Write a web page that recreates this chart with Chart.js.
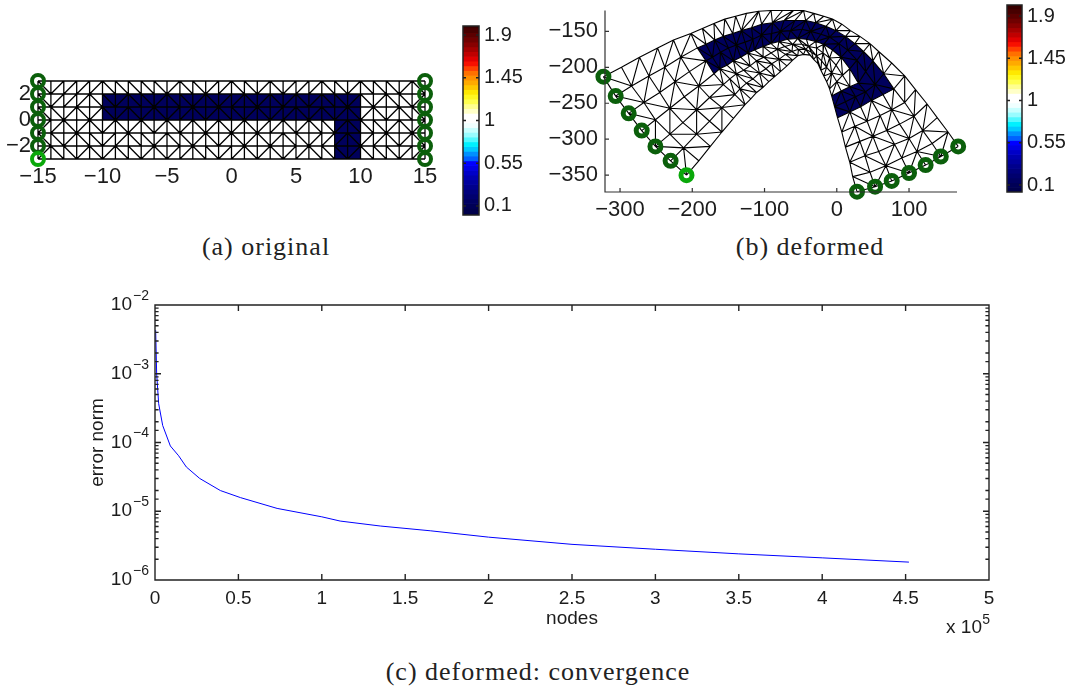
<!DOCTYPE html>
<html>
<head>
<meta charset="utf-8">
<title>mesh and convergence</title>
<script src="https://cdn.jsdelivr.net/npm/chart.js@4/dist/chart.umd.js"></script>
<style>
    html, body { margin: 0; padding: 0; background: #fff; }
    body { position: relative; width: 1071px; height: 688px; overflow: hidden; }
    canvas { position: absolute; }
    .caption { position: absolute; font-family: "Liberation Serif", serif; font-size: 26px; color: #222; white-space: pre; transform: translateX(-50%); letter-spacing: 1px; }
</style>
</head>
<body>
<canvas id="chartOriginal" width="455" height="200" style="left:0;top:0"></canvas>
<canvas id="barOriginal" width="75" height="235" style="left:455px;top:0"></canvas>
<canvas id="chartDeformed" width="470" height="225" style="left:530px;top:0"></canvas>
<canvas id="barDeformed" width="71" height="225" style="left:1000px;top:0"></canvas>
<canvas id="chartConvergence" width="960" height="370" style="left:60px;top:285px"></canvas>
<div class="caption" style="left:266px;top:232px">(a) original</div>
<div class="caption" style="left:810px;top:232px">(b) deformed</div>
<div class="caption" style="left:538px;top:657px">(c) deformed: convergence</div>
<script>
// undeformed grid of the beam
const originalX = [-15, -14, -13, -12, -11, -10, -9, -8, -7, -6, -5, -4, -3, -2, -1, 0, 1, 2, 3, 4, 5, 6, 7, 8, 9, 10, 11, 12, 13, 14, 15];
const originalY = [3, 2, 1, 0, -1, -2, -3];

// diagonal of each grid cell, top row first: u is "/", d is "\"
const cellDiagonals = [
    'duuuudddddudduu' + 'dduduuuddudddud',
    'duuuddudduddudu' + 'ududududdududdu',
    'ddududududuudud' + 'duduudududududd',
    'uududududududud' + 'uduududdudddudu',
    'ddudduudduddudu' + 'dududduuuduudud',
    'uddududduduuddu' + 'ududuuddduddduu'
];

// node positions after deformation, one row per y of originalY
const deformedX = [
    [-323, -298, -273, -248, -226, -202, -186, -170, -155, -140, -125, -108, -91, -75, -60, -46, -32, -18, -6, 7, 19, 32, 46, 58, 76, 94, 109, 125, 139, 154, 168],
    [-306, -284, -260, -238, -216, -193, -181, -169, -157, -144, -132, -118, -104, -89, -73, -58, -43, -29, -15, -1, 12, 25, 37, 50, 65, 79, 94, 107, 119, 132, 144],
    [-288, -267, -245, -224, -204, -181, -172, -161, -150, -139, -127, -116, -104, -90, -78, -64, -48, -36, -22, -10, 3, 15, 28, 40, 53, 64, 76, 87, 100, 111, 123],
    [-270, -251, -231, -211, -191, -170, -162, -152, -143, -133, -123, -114, -102, -91, -80, -68, -54, -42, -29, -18, -6, 6, 18, 30, 40, 48, 60, 69, 80, 90, 100],
    [-251, -231, -213, -194, -176, -157, -148, -139, -129, -120, -111, -101, -91, -82, -72, -61, -48, -39, -28, -19, -10, -1, 8, 18, 26, 33, 42, 50, 58, 68, 76],
    [-230, -212, -194, -176, -159, -141, -134, -125, -116, -107, -98, -90, -80, -71, -62, -53, -43, -35, -28, -21, -14, -7, 0, 6, 12, 18, 25, 32, 39, 46, 53],
    [-208, -191, -175, -159, -143, -127, -119, -111, -102, -94, -86, -78, -69, -61, -54, -46, -37, -32, -26, -22, -18, -14, -10, -7, -3, 1, 7, 12, 18, 22, 28]
];
const deformedY = [
    [-213, -200, -186, -173, -162, -153, -146, -139, -133, -129, -125, -122, -121, -121, -121, -121, -125, -129, -133, -140, -149, -157, -167, -178, -194, -212, -231, -251, -270, -290, -310],
    [-240, -226, -212, -200, -186, -173, -168, -162, -157, -153, -149, -145, -140, -138, -135, -135, -135, -138, -143, -149, -157, -167, -178, -191, -209, -230, -249, -268, -288, -306, -324],
    [-264, -249, -235, -220, -206, -191, -186, -179, -173, -169, -165, -161, -155, -153, -150, -149, -147, -150, -154, -158, -167, -176, -190, -206, -224, -238, -259, -279, -299, -317, -336],
    [-288, -273, -257, -241, -226, -209, -202, -197, -191, -186, -180, -176, -171, -167, -164, -161, -160, -161, -164, -168, -176, -186, -202, -222, -234, -246, -267, -288, -307, -326, -347],
    [-310, -293, -277, -259, -242, -224, -216, -209, -204, -198, -191, -186, -180, -175, -171, -168, -168, -171, -173, -180, -187, -197, -211, -227, -241, -255, -275, -296, -317, -337, -358],
    [-330, -312, -293, -275, -256, -238, -230, -222, -216, -208, -202, -195, -189, -182, -178, -175, -175, -179, -184, -191, -200, -208, -220, -233, -248, -262, -282, -303, -323, -346, -366],
    [-350, -330, -310, -290, -271, -252, -244, -235, -228, -220, -213, -206, -198, -190, -184, -182, -183, -189, -195, -204, -212, -220, -230, -240, -255, -270, -290, -311, -332, -352, -373]
];

// stiff L-shaped inclusion, corners as column / row of the grid
const regionCols = [5, 5, 25, 25, 23, 23, 5];
const regionRows = [3, 1, 1, 6, 6, 3, 3];

// tick values
const originalXTicks = [-15, -10, -5, 0, 5, 10, 15];
const originalYTicks = [-2, 0, 2];
const deformedXTicks = [-300, -200, -100, 0, 100];
const deformedYTicks = [-350, -300, -250, -200, -150];
const colorbarTicks = [0.1, 0.55, 1, 1.45, 1.9];
const nodesTicks = [0, 50000, 100000, 150000, 200000, 250000, 300000, 350000, 400000, 450000, 500000];

// colorbar
const colorbarLevels = [0, 0.05, 0.1, 0.15, 0.2, 0.25, 0.3, 0.35, 0.4, 0.45, 0.5, 0.55, 0.6, 0.65, 0.7, 0.75, 0.8, 0.85, 0.9, 0.95, 1, 1.05, 1.1, 1.15, 1.2, 1.25, 1.3, 1.35, 1.4, 1.45, 1.5, 1.55, 1.6, 1.65, 1.7, 1.75, 1.8, 1.85, 1.9, 1.95, 2];
const colorbarColors = ['#000046', '#00004c', '#000056', '#000062', '#00006e', '#00007c', '#00008c', '#00009e', '#0000b0', '#0000c8', '#0000e4', '#0000ff', '#0060ff', '#0090ff', '#00c8ff', '#00f0ff', '#50f8ff', '#98fcff', '#c8ffff', '#f0ffff', '#ffffff', '#ffffff', '#ffffc8', '#ffff90', '#ffff50', '#fff820', '#ffe800', '#ffc800', '#ffaa00', '#ff9000', '#ff7000', '#ff4000', '#f81000', '#e00000', '#c00000', '#a40000', '#880000', '#700000', '#5c0000', '#480000', '#380000'];

// convergence curve
const nodesValues = [400, 1000, 2200, 4600, 9200, 14200, 18800, 26800, 39200, 51200, 73200, 100000, 111000, 135000, 165000, 200000, 250000, 300000, 350000, 400000, 452000];
const errorValues = [4.3e-3, 1e-3, 3.67e-4, 1.77e-4, 8.9e-5, 6.4e-5, 4.4e-5, 3e-5, 2e-5, 1.58e-5, 1.1e-5, 8.3e-6, 7.2e-6, 6.1e-6, 5.2e-6, 4.2e-6, 3.3e-6, 2.8e-6, 2.4e-6, 2.1e-6, 1.82e-6];

const INK = '#1c1c1c';
const NAVY = '#00005c';
const DARK_GREEN = '#0b5f0b';
const LIGHT_GREEN = '#0aa80a';

Chart.defaults.font.family = '"Liberation Sans", Arial, sans-serif';
Chart.defaults.font.size = 19;
Chart.defaults.color = INK;
Chart.defaults.animation = false;

const niceMinus = v => String(v).replace('-', '\u2212');

function isDecade(v) {
    const e = Math.log10(v);
    return Math.abs(e - Math.round(e)) < 1e-6;
}

// MATLAB style axis lines and inward ticks
const axesLines = {
    id: 'axesLines',
    afterDraw(chart, args, opts) {
        if (!opts.show) return;
        const ctx = chart.ctx;
        const a = chart.chartArea;
        const len = opts.tick;
        ctx.save();
        ctx.strokeStyle = opts.color;
        ctx.lineWidth = opts.width;
        ctx.beginPath();
        if (opts.box) {
            ctx.rect(a.left, a.top, a.right - a.left, a.bottom - a.top);
        } else {
            ctx.moveTo(a.left, a.top);
            ctx.lineTo(a.left, a.bottom);
            ctx.lineTo(a.right, a.bottom);
        }
        chart.scales.x.ticks.forEach(t => {
            if (!opts.xticks) return;
            const px = chart.scales.x.getPixelForValue(t.value);
            ctx.moveTo(px, a.bottom);
            ctx.lineTo(px, a.bottom - len);
            if (opts.box) {
                ctx.moveTo(px, a.top);
                ctx.lineTo(px, a.top + len);
            }
        });
        chart.scales.y.ticks.forEach(t => {
            const py = chart.scales.y.getPixelForValue(t.value);
            const l = chart.scales.y.type === 'logarithmic' && !isDecade(t.value) ? len * 0.6 : len;
            ctx.moveTo(a.left, py);
            ctx.lineTo(a.left + l, py);
            if (opts.box) {
                ctx.moveTo(a.right, py);
                ctx.lineTo(a.right - l, py);
            }
        });
        ctx.stroke();
        ctx.restore();
    }
};
Chart.register(axesLines);

// exponents of the convergence axes, which tick labels cannot do
const exponents = {
    id: 'exponents',
    afterDraw(chart) {
        const ctx = chart.ctx;
        const a = chart.chartArea;
        const y = chart.scales.y;
        ctx.save();
        ctx.fillStyle = INK;
        ctx.textBaseline = 'middle';
        ctx.font = '14px "Liberation Sans"';
        ctx.textAlign = 'left';
        y.ticks.forEach(t => {
            if (!isDecade(t.value)) return;
            ctx.fillText(niceMinus(Math.round(Math.log10(t.value))), a.left - 22, y.getPixelForValue(t.value) - 9);
        });
        ctx.textAlign = 'right';
        ctx.font = '19px "Liberation Sans"';
        ctx.fillText('x 10', a.right - 7, a.bottom + 48);
        ctx.font = '14px "Liberation Sans"';
        ctx.fillText('5', a.right + 1, a.bottom + 40);
        ctx.restore();
    }
};

// fixes the plot rectangle so it lands where the reference has it
function fixWidth(w) {
    return function (scale) {
        scale.width = w;
        scale.paddingTop = 0;
        scale.paddingBottom = 0;
    };
}
function fixHeight(h) {
    return function (scale) {
        scale.height = h;
        scale.paddingLeft = 0;
        scale.paddingRight = 0;
    };
}
function useTicks(values) {
    return function (scale) {
        scale.ticks = values.map(v => ({ value: v }));
    };
}

// all grid lines of the mesh as one gapped polyline
function meshPoints(xs, ys) {
    const pts = [];
    const gap = { x: NaN, y: NaN };
    for (let r = 0; r < ys.length; r++) {
        for (let c = 0; c < xs[r].length; c++) pts.push({ x: xs[r][c], y: ys[r][c] });
        pts.push(gap);
    }
    for (let c = 0; c < xs[0].length; c++) {
        for (let r = 0; r < ys.length; r++) pts.push({ x: xs[r][c], y: ys[r][c] });
        pts.push(gap);
    }
    for (let r = 0; r < cellDiagonals.length; r++) {
        for (let c = 0; c < cellDiagonals[r].length; c++) {
            if (cellDiagonals[r][c] === 'u') {
                pts.push({ x: xs[r + 1][c], y: ys[r + 1][c] }, { x: xs[r][c + 1], y: ys[r][c + 1] });
            } else {
                pts.push({ x: xs[r][c], y: ys[r][c] }, { x: xs[r + 1][c + 1], y: ys[r + 1][c + 1] });
            }
            pts.push(gap);
        }
    }
    return pts;
}

// outline of the inclusion, walking the grid nodes between its corners
function regionPoints(xs, ys) {
    const pts = [];
    for (let i = 0; i < regionCols.length - 1; i++) {
        let c = regionCols[i], r = regionRows[i];
        while (c !== regionCols[i + 1] || r !== regionRows[i + 1]) {
            pts.push({ x: xs[r][c], y: ys[r][c] });
            c += Math.sign(regionCols[i + 1] - c);
            r += Math.sign(regionRows[i + 1] - r);
        }
    }
    return pts;
}

function boundaryPoints(xs, ys) {
    const pts = [];
    for (let r = 0; r < ys.length; r++) pts.push({ x: xs[r][0], y: ys[r][0] });
    for (let r = 0; r < ys.length; r++) pts.push({ x: xs[r][30], y: ys[r][30] });
    return pts;
}

function meshDatasets(xs, ys, ringRadius, ringWidth, lineWidth) {
    return [
        {
            data: regionPoints(xs, ys),
            showLine: true, fill: 'shape', backgroundColor: NAVY,
            borderWidth: 0, pointRadius: 0, order: 3, clip: false
        },
        {
            data: meshPoints(xs, ys),
            showLine: true, borderColor: '#000', borderWidth: lineWidth,
            pointRadius: 0, spanGaps: false, order: 2, clip: false
        },
        {
            data: boundaryPoints(xs, ys),
            showLine: false, pointRadius: ringRadius, pointBorderWidth: ringWidth,
            pointBackgroundColor: 'rgba(0,0,0,0)',
            pointBorderColor: ctx => ctx.dataIndex === 6 ? LIGHT_GREEN : DARK_GREEN,
            order: 1, clip: false
        }
    ];
}

function meshChart(id, datasets, layout, xr, yr, xTicks, yTicks, lines) {
    return new Chart(document.getElementById(id), {
        type: 'scatter',
        data: { datasets: datasets },
        options: {
            responsive: false,
            layout: { padding: layout.padding },
            plugins: { legend: { display: false }, tooltip: { enabled: false }, axesLines: lines },
            scales: {
                x: {
                    type: 'linear', min: xr[0], max: xr[1],
                    grid: { display: false, drawTicks: false }, border: { display: false },
                    afterBuildTicks: useTicks(xTicks), afterFit: fixHeight(layout.xHeight),
                    ticks: { callback: niceMinus, font: { size: 22 }, padding: layout.xPad, maxRotation: 0, minRotation: 0, autoSkip: false }
                },
                y: {
                    type: 'linear', min: yr[0], max: yr[1],
                    grid: { display: false, drawTicks: false }, border: { display: false },
                    afterBuildTicks: useTicks(yTicks), afterFit: fixWidth(layout.yWidth),
                    ticks: { callback: niceMinus, font: { size: 22 }, padding: layout.yPad, autoSkip: false }
                }
            }
        }
    });
}

function colorbarChart(id, layout) {
    return new Chart(document.getElementById(id), {
        type: 'bar',
        data: {
            datasets: [{
                data: colorbarLevels.map(l => ({ x: 1, y: l })),
                backgroundColor: colorbarColors,
                barPercentage: 1, categoryPercentage: 1
            }]
        },
        options: {
            indexAxis: 'y',
            responsive: false,
            layout: { padding: layout.padding },
            plugins: {
                legend: { display: false }, tooltip: { enabled: false },
                axesLines: { show: true, box: true, xticks: false, tick: 3, width: 1.5, color: '#222' }
            },
            scales: {
                x: { type: 'linear', min: 0, max: 1, display: false },
                y: {
                    type: 'linear', position: 'right', offset: false, min: layout.range[0], max: layout.range[1],
                    grid: { display: false, drawTicks: false, offset: false }, border: { display: false },
                    afterBuildTicks: useTicks(colorbarTicks), afterFit: fixWidth(layout.yWidth),
                    ticks: { callback: v => String(v), font: { size: 20 }, padding: 5, autoSkip: false }
                }
            }
        }
    });
}

meshChart('chartOriginal',
    meshDatasets(originalY.map(() => originalX), originalY.map(y => originalX.map(() => y)), 6, 4, 1.3),
    { padding: { top: 81, right: 30, bottom: 0, left: 0 }, xHeight: 41, yWidth: 38, xPad: 5, yPad: 7 },
    [-15, 15], [-3, 3], originalXTicks, originalYTicks, { show: false });

colorbarChart('barOriginal', { padding: { top: 26, right: 0, bottom: 20, left: 8 }, yWidth: 51, range: [0.005, 1.995] });

meshChart('chartDeformed',
    meshDatasets(deformedX, deformedY, 5.5, 5, 1.1),
    { padding: { top: 9, right: 43, bottom: 0, left: 0 }, xHeight: 33, yWidth: 75, xPad: 5, yPad: 7 },
    [-320.8, 166.4], [-373.4, -121], deformedXTicks, deformedYTicks,
    { show: true, box: false, xticks: true, tick: 4, width: 1.2, color: '#333' });

colorbarChart('barDeformed', { padding: { top: 5, right: 0, bottom: 33, left: 7 }, yWidth: 49, range: [0.026, 2.017] });

new Chart(document.getElementById('chartConvergence'), {
    type: 'scatter',
    data: {
        datasets: [{
            data: nodesValues.map((n, i) => ({ x: n, y: errorValues[i] })),
            showLine: true, borderColor: '#0000ff', borderWidth: 1, pointRadius: 0
        }]
    },
    plugins: [exponents],
    options: {
        responsive: false,
        layout: { padding: { top: 20, right: 31, bottom: 0, left: 0 } },
        plugins: {
            legend: { display: false }, tooltip: { enabled: false },
            axesLines: { show: true, box: true, xticks: true, tick: 6, width: 1.4, color: '#222' }
        },
        scales: {
            x: {
                type: 'linear', min: 0, max: 500000,
                grid: { display: false, drawTicks: false }, border: { display: false },
                afterBuildTicks: useTicks(nodesTicks), afterFit: fixHeight(75),
                title: { display: true, text: 'nodes', padding: { top: 0, bottom: 25 }, font: { size: 19 } },
                ticks: { callback: v => String(v / 100000), padding: 7, maxRotation: 0, minRotation: 0, autoSkip: false }
            },
            y: {
                type: 'logarithmic', min: 1e-6, max: 1e-2,
                grid: { display: false, drawTicks: false }, border: { display: false },
                afterFit: fixWidth(95),
                title: { display: true, text: 'error norm', padding: { top: 26, bottom: 0 }, font: { size: 19 } },
                ticks: { callback: v => isDecade(v) ? '10' : '', padding: 23, autoSkip: false }
            }
        }
    }
});
</script>
</body>
</html>
